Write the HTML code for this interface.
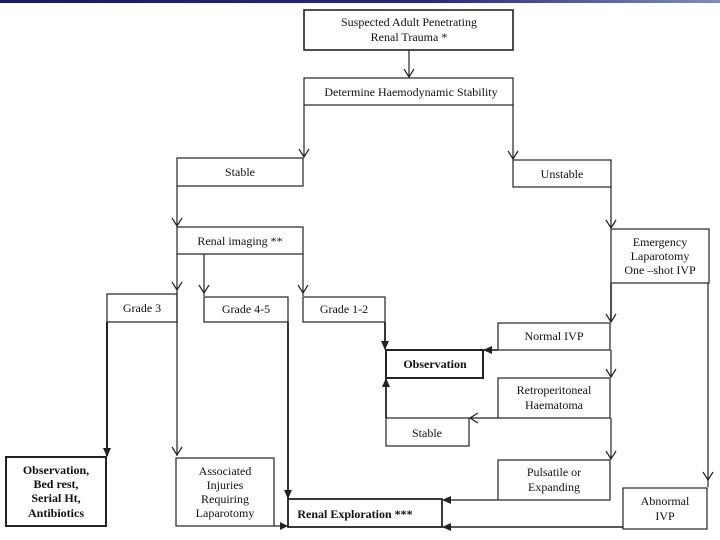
<!DOCTYPE html>
<html><head><style>
html,body{margin:0;padding:0;background:#fff;}
svg{display:block;font-family:"Liberation Serif",serif;}
</style></head><body>
<svg width="720" height="540" viewBox="0 0 720 540" xmlns="http://www.w3.org/2000/svg">
<defs>
<linearGradient id="g" x1="0" x2="1"><stop offset="0" stop-color="#1a1a5a"/><stop offset="0.6" stop-color="#2a2a70"/><stop offset="1" stop-color="#8090b0"/></linearGradient>
</defs>
<rect x="0" y="0" width="720" height="3" fill="url(#g)"/>
<g fill="none" stroke="#222" stroke-width="1.2">
<rect x="304" y="10" width="209" height="40" stroke-width="1.6"/>
<rect x="304" y="78" width="209" height="27"/>
<rect x="177" y="158" width="126" height="28"/>
<rect x="513" y="160" width="98" height="27"/>
<rect x="177" y="227" width="126" height="27"/>
<rect x="611" y="229" width="98" height="54"/>
<rect x="107" y="294" width="70" height="28"/>
<rect x="204" y="297" width="84" height="25"/>
<rect x="303" y="297" width="82" height="25"/>
<rect x="386" y="350" width="97" height="28" stroke-width="2"/>
<rect x="498" y="323" width="112" height="27"/>
<rect x="498" y="378" width="112" height="40"/>
<rect x="386" y="418" width="83" height="28"/>
<rect x="498" y="460" width="112" height="40"/>
<rect x="6" y="457" width="100" height="69" stroke-width="2"/>
<rect x="176" y="458" width="98" height="68"/>
<rect x="288" y="499" width="154" height="28" stroke-width="1.8"/>
<rect x="623" y="488" width="84" height="41"/>
<path d="M409 50V77"/>
<path d="M304 105V157"/>
<path d="M513 105V159"/>
<path d="M177 186V226"/>
<path d="M611 187V228"/>
<path d="M177 254V456"/>
<path d="M204 254V296"/>
<path d="M303 254V296"/>
<path d="M107 322V456" stroke-width="2"/>
<path d="M288 322V498" stroke-width="1.8"/>
<path d="M385 322V349" stroke-width="1.8"/>
<path d="M611 283V322" stroke-width="1.6"/>
<path d="M611 350V377"/>
<path d="M611 418V459"/>
<path d="M708 283V487"/>
<path d="M498 350H484" stroke-width="1.6"/>
<path d="M498 418H470"/>
<path d="M386 418V379" stroke-width="1.8"/>
<path d="M498 500H443"/>
<path d="M623 527H443" stroke-width="1.6"/>
<path d="M274 526H288"/>
<path d="M404 69L409 77L414 69"/>
<path d="M299 149L304 157L309 149"/>
<path d="M508 151L513 159L518 151"/>
<path d="M172 218L177 226L182 218"/>
<path d="M606 220L611 228L616 220"/>
<path d="M172 282L177 290L182 282"/>
<path d="M199 285L204 293L209 285"/>
<path d="M298 285L303 293L308 285"/>
<path d="M172 447L177 455L182 447"/>
<path d="M606 314L611 322L616 314"/>
<path d="M606 369L611 377L616 369"/>
<path d="M606 451L611 459L616 451"/>
<path d="M703 472L708 480L713 472"/>
<path d="M478 413L470 418L478 423"/>
</g>
<g fill="#222">
<path d="M103 448L107 457L111 448Z"/>
<path d="M284 490L288 499L292 490Z"/>
<path d="M381 341L385 350L389 341Z"/>
<path d="M492 346L483 350L492 354Z"/>
<path d="M382 387L386 378L390 387Z"/>
<path d="M451 496L442 500L451 504Z"/>
<path d="M451 523L442 527L451 531Z"/>
<path d="M280 522L288 526L280 530Z"/>
</g>
<g font-size="12" fill="#111" text-anchor="middle">
<text x="409" y="26">Suspected Adult Penetrating</text>
<text x="409" y="41">Renal Trauma *</text>
<text x="411" y="96">Determine Haemodynamic Stability</text>
<text x="240" y="176">Stable</text>
<text x="562" y="178">Unstable</text>
<text x="240" y="245">Renal imaging **</text>
<text x="660" y="246">Emergency</text>
<text x="660" y="260">Laparotomy</text>
<text x="660" y="274">One –shot IVP</text>
<text x="142" y="312">Grade 3</text>
<text x="246" y="313">Grade 4-5</text>
<text x="344" y="313">Grade 1-2</text>
<text x="554" y="340">Normal IVP</text>
<text x="554" y="394">Retroperitoneal</text>
<text x="554" y="409">Haematoma</text>
<text x="427" y="437">Stable</text>
<text x="554" y="476">Pulsatile or</text>
<text x="554" y="491">Expanding</text>
<text x="225" y="475">Associated</text>
<text x="225" y="489">Injuries</text>
<text x="225" y="503">Requiring</text>
<text x="225" y="517">Laparotomy</text>
<text x="665" y="505">Abnormal</text>
<text x="665" y="520">IVP</text>
<g font-weight="bold">
<text x="435" y="368">Observation</text>
<text x="56" y="474">Observation,</text>
<text x="56" y="488">Bed rest,</text>
<text x="56" y="502">Serial Ht,</text>
<text x="56" y="517">Antibiotics</text>
<text x="355" y="518">Renal Exploration ***</text>
</g>
</g>
</svg>
</body></html>
